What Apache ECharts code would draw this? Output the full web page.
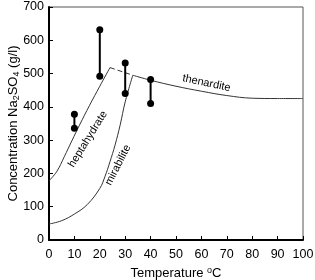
<!DOCTYPE html>
<html><head><meta charset="utf-8">
<script src="https://cdn.jsdelivr.net/npm/echarts@6/dist/echarts.min.js"></script>
<style>html,body{margin:0;padding:0;background:#fff}#c{width:315px;height:280px}</style>
</head><body><div id="c"></div>
<script>
var xTicks = [0,10,20,30,40,50,60,70,80,90,100];
var yTicks = [0,100,200,300,400,500,600,700];
var heptahydrate = [[0,178],[3,205],[6,250],[9,298],[12,345],[16,405],[20,462],[24,518]];
var mirabilite = [[0,48],[5,58],[10,78],[15,106],[20,155],[22,190],[24,235],[26,285],[28,345],[30,415],[33,495]];
var metastable = [[24,518],[33,495]];
var thenardite = [[33,495],[40,480],[50,462],[60,447],[70,434],[80,426],[90,425],[100,425]];
var measTemp = [10,20,30,40];
var measHigh = [378,632,532,482];
var measLow = [336,492,440,410];
var curveLabels = [
  {text:'heptahydrate', x:15.3, y:303, rot:58},
  {text:'mirabilite', x:27.2, y:225, rot:63},
  {text:'thenardite', x:62, y:471, rot:-12}
];
var FONT = '"Liberation Sans", Arial, sans-serif';
var series = [
  {type:'line', data:heptahydrate, smooth:0.4, symbol:'none', lineStyle:{color:'#333',width:1}},
  {type:'line', data:mirabilite, smooth:0.4, symbol:'none', lineStyle:{color:'#333',width:1}},
  {type:'line', data:metastable, symbol:'none', lineStyle:{color:'#333',width:1,type:[5,3]}},
  {type:'line', data:thenardite, smooth:0.4, symbol:'none', lineStyle:{color:'#333',width:1}}
];
measTemp.forEach(function(t,i){
  series.push({type:'line', data:[[t,measHigh[i]],[t,measLow[i]]], symbol:'circle', symbolSize:7,
    itemStyle:{color:'#000'}, lineStyle:{color:'#000',width:2}, z:5});
});
var chart = echarts.init(document.getElementById('c'));
chart.setOption({
  animation:false,
  grid:{left:49,right:12,top:7,bottom:40,show:true,borderColor:'#555',borderWidth:1,
    containLabel:false,outerBoundsMode:'none'},
  xAxis:{type:'value',min:0,max:100,interval:10,
    axisLine:{lineStyle:{color:'#000',width:2}},
    axisTick:{inside:true,length:4,lineStyle:{color:'#000'}},
    splitLine:{show:false},
    axisLabel:{color:'#000',fontSize:12.5,fontFamily:FONT,margin:8,
      formatter:function(v){return xTicks.indexOf(v)>=0?String(v):'';}},
    name:'Temperature {sup|o}C',nameLocation:'middle',nameGap:26,nameMoveOverlap:false,
    nameTextStyle:{color:'#000',fontSize:13,fontFamily:FONT,
      rich:{sup:{fontSize:9,verticalAlign:'top',padding:[0,0,6,0],color:'#000',fontFamily:FONT}}}},
  yAxis:{type:'value',min:0,max:700,interval:100,
    axisLine:{lineStyle:{color:'#000',width:2}},
    axisTick:{inside:true,length:4,lineStyle:{color:'#000'}},
    splitLine:{show:false},
    axisLabel:{color:'#000',fontSize:12.5,fontFamily:FONT,margin:5,
      formatter:function(v){return yTicks.indexOf(v)>=0?String(v):'';}},
    name:'Concentration Na{sub|2}SO{sub|4} (g/l)',nameLocation:'middle',nameGap:28,nameMoveOverlap:false,
    nameTextStyle:{color:'#000',fontSize:13,fontFamily:FONT,
      rich:{sub:{fontSize:9,padding:[6,0,0,0],color:'#000',fontFamily:FONT}}}},
  series:series
});
var gr = curveLabels.map(function(l){
  var p = chart.convertToPixel({gridIndex:0},[l.x,l.y]);
  return {type:'text',x:p[0],y:p[1],rotation:l.rot*Math.PI/180,
    style:{text:l.text,fill:'#000',font:'11px '+FONT,align:'center',verticalAlign:'middle'}};
});
chart.setOption({graphic:gr});
</script></body></html>
